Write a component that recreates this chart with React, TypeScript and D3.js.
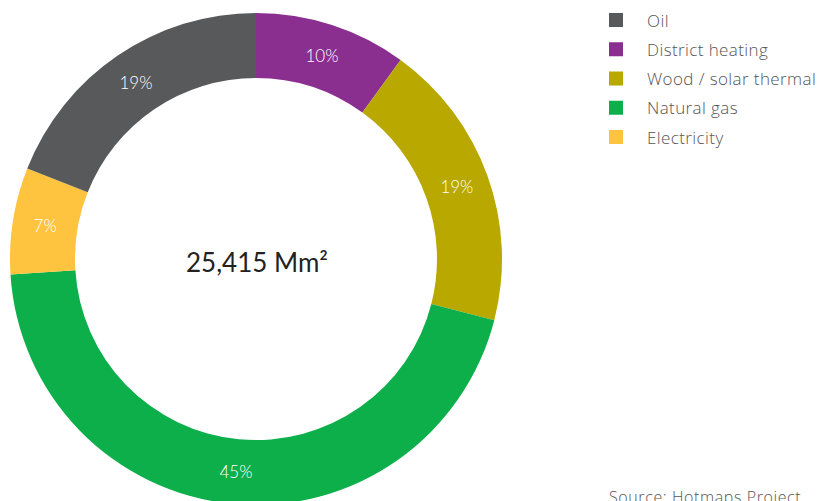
import React from 'react'
import * as d3 from 'd3'

// heating sources of the building stock, share in %
const categories = ['District heating', 'Wood / solar thermal', 'Natural gas', 'Electricity', 'Oil']
const shares = [10, 19, 45, 7, 19]
const colors = ['#8a2f90', '#b8a800', '#0daf4b', '#fec43f', '#58595b']

// legend order differs from the slice order
const legendOrder = ['Oil', 'District heating', 'Wood / solar thermal', 'Natural gas', 'Electricity']

const totalLabel = '25,415 Mm²'
const sourceLabel = 'Source: Hotmaps Project'

const width = 831
const height = 501

const App = () => {
    const cx = 256
    const cy = 259
    const outer = 246
    const inner = 181

    const data = categories.map((c, i) => ({ category: c, share: shares[i], color: colors[i] }))

    const pie = d3.pie<any>()
        .value(d => d.share)
        .sort(null)

    const arc = d3.arc<any>()
        .innerRadius(inner)
        .outerRadius(outer)

    const arcs = pie(data)

    const legendY = d3.scalePoint()
        .domain(legendOrder)
        .range([20, 137])

    const colorOf = d3.scaleOrdinal<string>()
        .domain(categories)
        .range(colors)

    return (
        <svg width={width} height={height}
            style={{ position: 'absolute', left: 0, top: 0, background: '#fff' }}>
            <g transform={`translate(${cx},${cy})`}>
                {arcs.map(a => (
                    <path key={a.data.category} d={arc(a) as string} fill={a.data.color} />
                ))}
                {/* percent labels */}
                {arcs.map(a => {
                    const [x, y] = arc.centroid(a)
                    return (
                        <text key={'l' + a.data.category} x={x} y={y}
                            textAnchor="middle" dominantBaseline="central"
                            fill="#fff" fontFamily="Lato" fontWeight={300} fontSize={17}>
                            {a.data.share}%
                        </text>
                    )
                })}
                <text x={1} y={3} textAnchor="middle" dominantBaseline="central"
                    fill="#222" fontFamily="Lato" fontSize={26}>
                    {totalLabel}
                </text>
            </g>

            {/* legend */}
            <g>
                {legendOrder.map(c => (
                    <g key={c} transform={`translate(609,${legendY(c)})`}>
                        <rect x={0} y={-7} width={14} height={14} fill={colorOf(c)} />
                        <text x={38} y={0} dominantBaseline="central"
                            fill="#555" fontFamily="Open Sans" fontWeight={300} fontSize={17}
                            letterSpacing={0.4}>
                            {c}
                        </text>
                    </g>
                ))}
            </g>

            <text x={609} y={503} fill="#555" fontFamily="Open Sans" fontWeight={300} fontSize={16}
                letterSpacing={0.6}>
                {sourceLabel}
            </text>
        </svg>
    )
}

export default App
